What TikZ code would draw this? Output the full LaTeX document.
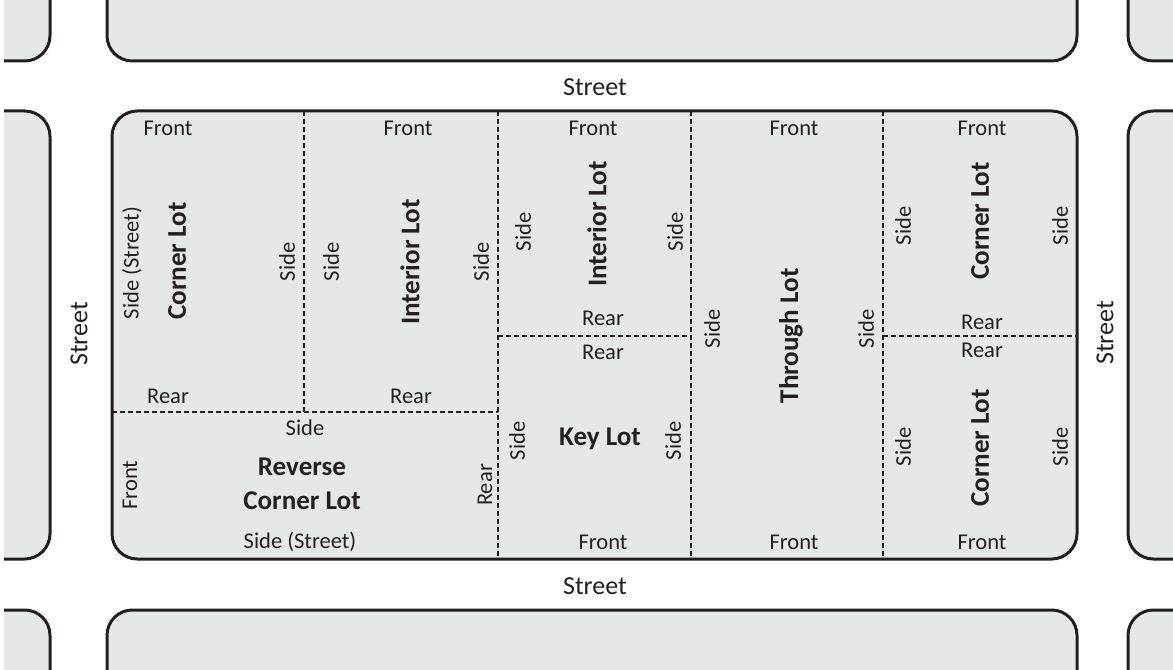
\documentclass[tikz,border=0pt]{standalone}
\usepackage{fontspec}
\setmainfont{Carlito}
\definecolor{ink}{HTML}{231F20}
\definecolor{blockfill}{HTML}{E6E7E8}
\begin{document}
\begin{tikzpicture}[x=0.75pt,y=-0.75pt,
  block/.style={draw=ink, fill=blockfill, line width=2.25pt, rounded corners=19pt},
  lotline/.style={draw=ink, line width=0.9pt, dash pattern=on 4pt off 2pt},
  lbl/.style={text=ink, inner sep=0pt, font=\fontsize{16.9}{18}\selectfont},
  lotname/.style={text=ink, inner sep=0pt, font=\bfseries\fontsize{20.3}{22}\selectfont},
  streetlbl/.style={text=ink, inner sep=0pt, font=\fontsize{19.5}{21}\selectfont},
  vert/.style={rotate=90}]
\useasboundingbox (0,0) rectangle (1173,670);
\begin{scope}
\clip (4,0) rectangle (1173,670);
% surrounding blocks
\path[block] (-60,-60) rectangle (50,61);
\path[block] (107,-60) rectangle (1077,61);
\path[block] (1128,-60) rectangle (1240,61);
\path[block] (-60,111) rectangle (50,559);
\path[block] (1128,111) rectangle (1240,559);
\path[block] (-60,610) rectangle (50,730);
\path[block] (107,610) rectangle (1077,730);
\path[block] (1128,610) rectangle (1240,730);
% main block fill
\path[fill=blockfill, rounded corners=19pt] (112,111) rectangle (1077,559);
% lot lines
\draw[lotline] (304,111) -- (304,412);
\draw[lotline] (112,412) -- (498,412);
\draw[lotline] (498,111) -- (498,559);
\draw[lotline] (498,336) -- (691,336);
\draw[lotline] (691,111) -- (691,559);
\draw[lotline] (883,111) -- (883,559);
\draw[lotline] (883,336) -- (1077,336);
% main block outline
\path[draw=ink, line width=2.25pt, rounded corners=19pt] (112,111) rectangle (1077,559);
\end{scope}
% streets
\node[streetlbl] (stTop) at (595,87) {Street};
\node[streetlbl] (stBot) at (595,586) {Street};
\node[streetlbl, vert] (stLeft) at (79,334) {Street};
\node[streetlbl, vert] (stRight) at (1105,333) {Street};
% corner lot (top left)
\node[lbl] (c1f) at (168,128) {Front};
\node[lbl, vert] (c1ss) at (132,263) {Side (Street)};
\node[lotname, vert] (c1n) at (177,261) {Corner Lot};
\node[lbl, vert] (c1s) at (287,262) {Side};
\node[lbl] (c1r) at (168,396) {Rear};
% interior lot 1
\node[lbl] (i1f) at (408,128) {Front};
\node[lbl, vert] (i1sl) at (331,262) {Side};
\node[lotname, vert] (i1n) at (410,262) {Interior Lot};
\node[lbl, vert] (i1sr) at (481,262) {Side};
\node[lbl] (i1r) at (411,396) {Rear};
% reverse corner lot
\node[lbl] (rcs) at (305,428) {Side};
\node[lotname, align=center, font=\bfseries\fontsize{20.3}{25.5}\selectfont] (rcn) at (302,484) {Reverse\\Corner Lot};
\node[lbl] (rcss) at (300,542) {Side (Street)};
\node[lbl, vert] (rcf) at (130,485) {Front};
\node[lbl, vert] (rcr) at (485,485) {Rear};
% interior lot 2
\node[lbl] (i2f) at (593,128) {Front};
\node[lbl, vert] (i2sl) at (523,232) {Side};
\node[lotname, vert] (i2n) at (597,224) {Interior Lot};
\node[lbl, vert] (i2sr) at (675,232) {Side};
\node[lbl] (i2r) at (603,318) {Rear};
% key lot
\node[lbl] (kr) at (603,352) {Rear};
\node[lbl, vert] (ksl) at (517,441) {Side};
\node[lotname] (kn) at (600,439) {Key Lot};
\node[lbl, vert] (ksr) at (673,441) {Side};
\node[lbl] (kf) at (603,542) {Front};
% through lot
\node[lbl] (tf1) at (794,128) {Front};
\node[lbl, vert] (tsl) at (712,329) {Side};
\node[lotname, vert] (tn) at (791,336) {Through Lot};
\node[lbl, vert] (tsr) at (866,329) {Side};
\node[lbl] (tf2) at (794,542) {Front};
% corner lot (top right)
\node[lbl] (c2f) at (982,128) {Front};
\node[lbl, vert] (c2sl) at (903,226) {Side};
\node[lotname, vert] (c2n) at (980,221) {Corner Lot};
\node[lbl, vert] (c2sr) at (1060,226) {Side};
\node[lbl] (c2r) at (982,322) {Rear};
% corner lot (bottom right)
\node[lbl] (c3r) at (982,350) {Rear};
\node[lbl, vert] (c3sl) at (903,447) {Side};
\node[lotname, vert] (c3n) at (980,448) {Corner Lot};
\node[lbl, vert] (c3sr) at (1060,447) {Side};
\node[lbl] (c3f) at (982,542) {Front};
\end{tikzpicture}
\end{document}
